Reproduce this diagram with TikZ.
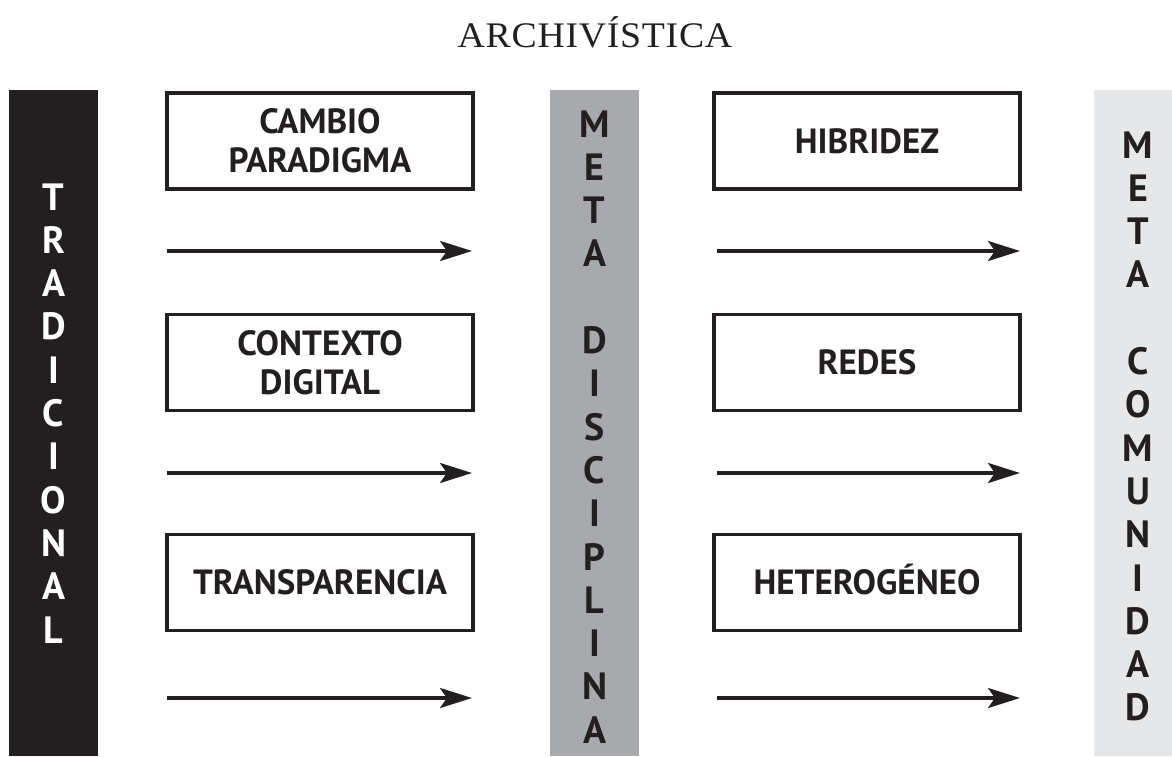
\documentclass[tikz,border=0pt]{standalone}
\usepackage{fontspec}
\setsansfont{PT Sans}
\newfontfamily\titlefont[FakeStretch=1.05,LetterSpace=2]{Liberation Serif}
\usetikzlibrary{arrows.meta}
\definecolor{ink}{HTML}{231F20}
\definecolor{midgray}{HTML}{A7A9AC}
\definecolor{palegray}{HTML}{E6E7E8}
\begin{document}
\begin{tikzpicture}[x=1pt,y=-1pt,
  boxnode/.style={draw=ink, line width=3.2pt, minimum width=306pt, minimum height=96pt, inner sep=0pt, align=center, text=ink, font=\sffamily\bfseries\fontsize{35}{39}\selectfont},
  vlet/.style={anchor=base, inner sep=0pt, font=\sffamily\bfseries\fontsize{38}{40}\selectfont},
  arr/.style={draw=ink, line width=3.6pt, -{Stealth[length=32pt,width=20pt,inset=7pt]}}]
\useasboundingbox (0,0) rectangle (1172,756);
% bars
\fill[ink] (9,90) rectangle (98,756);
\fill[midgray] (550,90) rectangle (639,756);
\fill[palegray] (1094,90) rectangle (1172,756);
% title
\node[anchor=base, inner sep=0pt, text=ink, font=\titlefont\fontsize{36}{40}\selectfont] (title) at (595,47) {ARCHIVÍSTICA};
% vertical words
\foreach \l [count=\i] in {T,R,A,D,I,C,I,O,N,A,L}
  \node[vlet, text=white] (trad\i) at (53.5,{210+(\i-1)*43.3}) {\l};
\foreach \l [count=\i] in {M,E,T,A,{},D,I,S,C,I,P,L,I,N,A}
  \node[vlet, text=ink] (disc\i) at (594.5,{137+(\i-1)*43.3}) {\l};
\foreach \l [count=\i] in {M,E,T,A,{},C,O,M,U,N,I,D,A,D}
  \node[vlet, text=ink] (comu\i) at (1138,{158+(\i-1)*43.3}) {\l};
% boxes
\node[boxnode] (cambio) at (320,141) {CAMBIO\\PARADIGMA};
\node[boxnode] (contexto) at (320,362.5) {CONTEXTO\\DIGITAL};
\node[boxnode] (transp) at (320,582.5) {TRANSPARENCIA};
\node[boxnode] (hibridez) at (867,141) {HIBRIDEZ};
\node[boxnode] (redes) at (867,362.5) {REDES};
\node[boxnode] (hetero) at (867,582.5) {HETEROG\smash{É}NEO};
% arrows
\coordinate (la1s) at (167,251); \coordinate (la1e) at (472,251);
\coordinate (la2s) at (167,473); \coordinate (la2e) at (472,473);
\coordinate (la3s) at (167,698); \coordinate (la3e) at (472,698);
\coordinate (ra1s) at (717,251); \coordinate (ra1e) at (1020,251);
\coordinate (ra2s) at (717,473); \coordinate (ra2e) at (1020,473);
\coordinate (ra3s) at (717,698); \coordinate (ra3e) at (1020,698);
\draw[arr] (la1s) -- (la1e);
\draw[arr] (la2s) -- (la2e);
\draw[arr] (la3s) -- (la3e);
\draw[arr] (ra1s) -- (ra1e);
\draw[arr] (ra2s) -- (ra2e);
\draw[arr] (ra3s) -- (ra3e);
\end{tikzpicture}
\end{document}
